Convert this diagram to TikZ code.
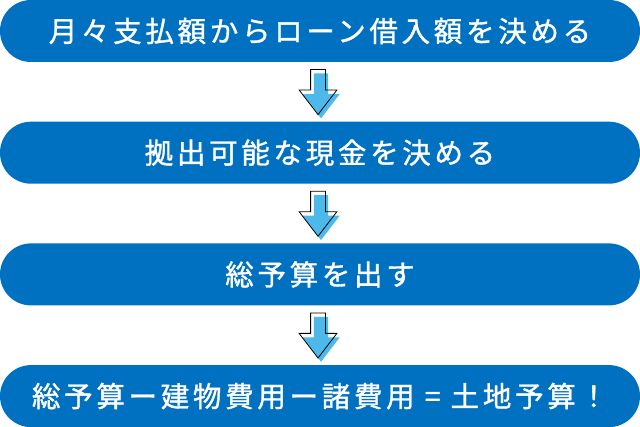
\documentclass[tikz,border=0pt]{standalone}
\usepackage{fontspec}
\usepackage{tikz}
\usetikzlibrary{positioning}
\usetikzlibrary{shapes.arrows}
\newfontfamily\jpfont{Noto Sans CJK JP}[LetterSpace=13, FakeBold=1.2]
\definecolor{barblue}{HTML}{0070C0}
\definecolor{arrowblue}{HTML}{4DB8EA}
\tikzstyle{bar} = [rectangle, rounded corners=31pt, fill=barblue, minimum width=640pt, minimum height=62pt, inner sep=0pt, text=white]
\tikzstyle{downarrow} = [single arrow, rotate=-90, anchor=tail, inner xsep=0pt, inner ysep=7pt, minimum height=45pt, single arrow head extend=11.5pt, single arrow tip angle=75]
\tikzstyle{arrowline} = [downarrow, draw=black, line width=0.8pt]
\tikzstyle{arrowfill} = [downarrow, fill=arrowblue]

\begin{document}
\begin{tikzpicture}[x=1pt,y=1pt]
	\tikzstyle{every node}=[font=\jpfont\fontsize{28.5}{32}\selectfont]
	\useasboundingbox (0,0) rectangle (640,426);
	
	% ------------------- Steps ------------------- %
	\node[bar] (step1) at (320,395) {月々支払額からローン借入額を決める};
	\node[bar, below=59.3pt of step1] (step2) {拠出可能な現金を決める};
	\node[bar, below=59.3pt of step2] (step3) {総予算を出す};
	\node[bar, below=59.3pt of step3] (step4) {総予算ー建物費用ー諸費用 = 土地予算！};
	
	% ------------------- Arrows between steps ------------------- %
	\node[arrowfill] (fill1) at ([shift={(1pt,-11pt)}]step1.south) {};
	\node[arrowline] (line1) at ([shift={(-2pt,-7pt)}]step1.south) {};
	
	\node[arrowfill] (fill2) at ([shift={(1pt,-11pt)}]step2.south) {};
	\node[arrowline] (line2) at ([shift={(-2pt,-7pt)}]step2.south) {};
	
	\node[arrowfill] (fill3) at ([shift={(1pt,-11pt)}]step3.south) {};
	\node[arrowline] (line3) at ([shift={(-2pt,-7pt)}]step3.south) {};
\end{tikzpicture}
\end{document}
